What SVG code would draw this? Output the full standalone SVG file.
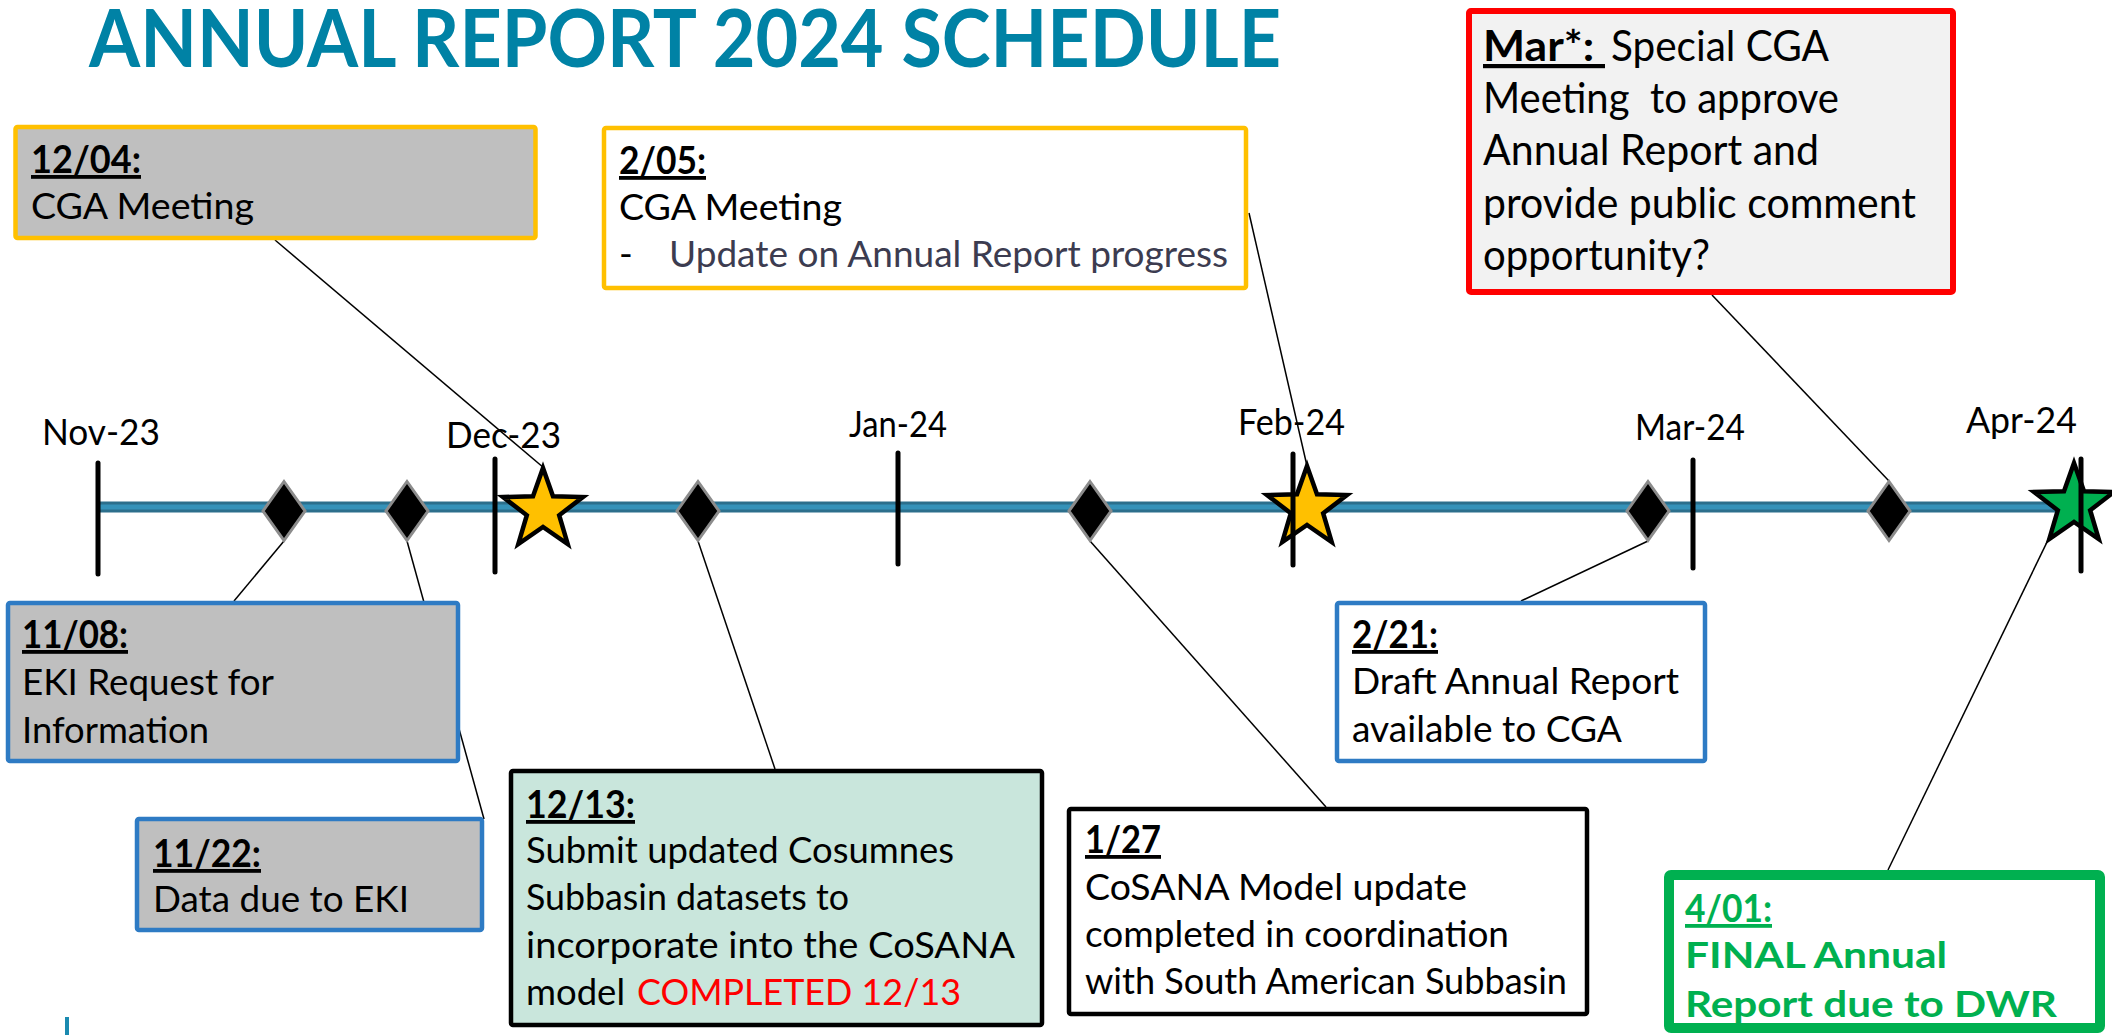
<svg xmlns="http://www.w3.org/2000/svg" width="2112" height="1035" viewBox="0 0 2112 1035">
  <style>
    text { font-family: Lato, "Liberation Sans", sans-serif; fill: #000; }
    .title { font-size: 80px; font-weight: bold; fill: #0082A5; }
    .mon { font-size: 37px; }
    .bd { font-size: 37px; }
    .big { font-size: 42px; }
    .hd { font-size: 38px; font-weight: bold; text-decoration: underline; }
    .red { fill: #FF0000; }
    .upd { fill: #3C3C50; }
    .grn { fill: #00B050; font-weight: bold; }
    .conn line { stroke: #000; stroke-width: 1.5; }
    .tick { stroke: #000; stroke-width: 5; stroke-linecap: round; }
    .dia { fill: #000; stroke: #8C8C8C; stroke-width: 3; }
    .star { stroke: #000; stroke-width: 4.5; stroke-linejoin: miter; }
    .gold { stroke: #FFC000; stroke-width: 4.5; }
    .blue { stroke: #2E7BC4; stroke-width: 4.5; }
    .blk { stroke: #000; stroke-width: 4.5; }
  </style>
  <defs>
    <path id="star5" d="M0,-42 L9.99,-13.75 L39.94,-12.98 L16.17,5.25 L24.69,33.98 L0,17 L-24.69,33.98 L-16.17,5.25 L-39.94,-12.98 L-9.99,-13.75 Z"/>
    <path id="diamond" d="M0,-29.5 L21,0 L0,29.5 L-21,0 Z"/>
  </defs>

  <rect width="2112" height="1035" fill="#FFFFFF"/>

  <text class="title" x="89" y="67" textLength="1192" lengthAdjust="spacingAndGlyphs">ANNUAL REPORT 2024 SCHEDULE</text>

  <!-- leader lines from milestones to their notes -->
  <g id="connectors" class="conn">
    <line x1="275" y1="240" x2="544" y2="468"/>
    <line x1="1249" y1="213" x2="1307" y2="466"/>
    <line x1="1712" y1="295" x2="1889" y2="481"/>
    <line x1="284" y1="541" x2="234" y2="601"/>
    <line x1="407" y1="541" x2="484" y2="819"/>
    <line x1="698" y1="541" x2="775" y2="769"/>
    <line x1="1090" y1="541" x2="1326" y2="807"/>
    <line x1="1648" y1="541" x2="1521" y2="601"/>
    <line x1="2065" y1="505" x2="1888" y2="870"/>
  </g>

  <!-- timeline bar -->
  <g id="timeline">
    <line x1="100" y1="507" x2="2080" y2="507" stroke="#2C6F8C" stroke-width="11"/>
    <line x1="100" y1="507" x2="2080" y2="507" stroke="#3592B9" stroke-width="5"/>
  </g>

  <!-- month labels -->
  <g id="months" class="mon">
    <text x="42" y="445" textLength="118" lengthAdjust="spacingAndGlyphs">Nov-23</text>
    <text x="446" y="448" textLength="115" lengthAdjust="spacingAndGlyphs">Dec-23</text>
    <text x="849" y="437" textLength="98" lengthAdjust="spacingAndGlyphs">Jan-24</text>
    <text x="1238" y="435" textLength="107" lengthAdjust="spacingAndGlyphs">Feb-24</text>
    <text x="1635" y="440" textLength="110" lengthAdjust="spacingAndGlyphs">Mar-24</text>
    <text x="1966" y="433" textLength="111" lengthAdjust="spacingAndGlyphs">Apr-24</text>
  </g>

  <!-- milestone diamonds -->
  <g id="diamonds">
    <use href="#diamond" class="dia" x="284" y="511"/>
    <use href="#diamond" class="dia" x="407" y="511"/>
    <use href="#diamond" class="dia" x="698" y="511"/>
    <use href="#diamond" class="dia" x="1090" y="511"/>
    <use href="#diamond" class="dia" x="1648" y="511"/>
    <use href="#diamond" class="dia" x="1889" y="511"/>
  </g>

  <!-- meeting / deadline stars -->
  <g id="stars">
    <use href="#star5" class="star" fill="#FFC000" x="543" y="510"/>
    <use href="#star5" class="star" fill="#FFC000" x="1307" y="508"/>
    <use href="#star5" class="star" fill="#00B050" x="2074" y="505"/>
  </g>

  <!-- month ticks -->
  <g id="ticks" class="tick">
    <line x1="98" y1="463" x2="98" y2="574"/>
    <line x1="495" y1="459" x2="495" y2="572"/>
    <line x1="898" y1="453" x2="898" y2="564"/>
    <line x1="1293" y1="454" x2="1293" y2="565"/>
    <line x1="1693" y1="460" x2="1693" y2="568"/>
    <line x1="2081" y1="459" x2="2081" y2="571"/>
  </g>

  <g id="n1204">
    <rect x="15.5" y="127" width="520" height="111" rx="2" fill="#BFBFBF" class="gold"/>
    <text class="hd" x="31" y="173" textLength="110" lengthAdjust="spacingAndGlyphs">12/04:</text>
    <text class="bd" x="31" y="219" textLength="223" lengthAdjust="spacingAndGlyphs">CGA Meeting</text>
  </g>

  <g id="n0205">
    <rect x="604" y="128" width="642" height="160" rx="2" fill="#FFFFFF" class="gold"/>
    <text class="hd" x="619" y="174" textLength="87" lengthAdjust="spacingAndGlyphs">2/05:</text>
    <text class="bd" x="619" y="220" textLength="223" lengthAdjust="spacingAndGlyphs">CGA Meeting</text>
    <text class="bd" x="619" y="267">-</text>
    <text class="bd upd" x="669" y="267" textLength="559" lengthAdjust="spacingAndGlyphs">Update on Annual Report progress</text>
  </g>

  <g id="nMar">
    <rect x="1469" y="11" width="484" height="281" rx="2" fill="#F2F2F2" stroke="#FF0000" stroke-width="6"/>
    <text class="big" x="1483" y="61" font-weight="bold" text-decoration="underline" xml:space="preserve" textLength="122" lengthAdjust="spacingAndGlyphs">Mar*: </text>
    <text class="big" x="1611" y="61" textLength="218" lengthAdjust="spacingAndGlyphs">Special CGA</text>
    <text class="big" x="1483" y="113" xml:space="preserve" textLength="356" lengthAdjust="spacingAndGlyphs">Meeting  to approve</text>
    <text class="big" x="1483" y="165" textLength="336" lengthAdjust="spacingAndGlyphs">Annual Report and</text>
    <text class="big" x="1483" y="218" textLength="433" lengthAdjust="spacingAndGlyphs">provide public comment</text>
    <text class="big" x="1483" y="270" textLength="227" lengthAdjust="spacingAndGlyphs">opportunity?</text>
  </g>

  <g id="n1108">
    <rect x="8" y="603" width="450" height="158" rx="2" fill="#BFBFBF" class="blue"/>
    <text class="hd" x="22" y="648" textLength="106" lengthAdjust="spacingAndGlyphs">11/08:</text>
    <text class="bd" x="22" y="695" textLength="252" lengthAdjust="spacingAndGlyphs">EKI Request for</text>
    <text class="bd" x="22" y="743" textLength="187" lengthAdjust="spacingAndGlyphs">Information</text>
  </g>

  <g id="n1122">
    <rect x="137" y="819" width="345" height="111" rx="2" fill="#BFBFBF" class="blue"/>
    <text class="hd" x="153" y="867" textLength="108" lengthAdjust="spacingAndGlyphs">11/22:</text>
    <text class="bd" x="153" y="912" textLength="256" lengthAdjust="spacingAndGlyphs">Data due to EKI</text>
  </g>

  <g id="n1213">
    <rect x="511" y="771" width="531" height="254" rx="2" fill="#C9E6DC" class="blk"/>
    <text class="hd" x="526" y="818" textLength="109" lengthAdjust="spacingAndGlyphs">12/13:</text>
    <text class="bd" x="526" y="863" textLength="428" lengthAdjust="spacingAndGlyphs">Submit updated Cosumnes</text>
    <text class="bd" x="526" y="910" textLength="323" lengthAdjust="spacingAndGlyphs">Subbasin datasets to</text>
    <text class="bd" x="526" y="958" textLength="489" lengthAdjust="spacingAndGlyphs">incorporate into the CoSANA</text>
    <text class="bd" x="526" y="1005" textLength="99" lengthAdjust="spacingAndGlyphs">model</text>
    <text class="bd red" x="637" y="1005" textLength="324" lengthAdjust="spacingAndGlyphs">COMPLETED 12/13</text>
  </g>

  <g id="n0127">
    <rect x="1069" y="809" width="518" height="205" rx="2" fill="#FFFFFF" class="blk"/>
    <text class="hd" x="1085" y="853" textLength="76" lengthAdjust="spacingAndGlyphs">1/27</text>
    <text class="bd" x="1085" y="900" textLength="382" lengthAdjust="spacingAndGlyphs">CoSANA Model update</text>
    <text class="bd" x="1085" y="947" textLength="424" lengthAdjust="spacingAndGlyphs">completed in coordination</text>
    <text class="bd" x="1085" y="994" textLength="482" lengthAdjust="spacingAndGlyphs">with South American Subbasin</text>
  </g>

  <g id="n0221">
    <rect x="1337" y="603" width="368" height="158" rx="2" fill="#FFFFFF" class="blue"/>
    <text class="hd" x="1352" y="648" textLength="86" lengthAdjust="spacingAndGlyphs">2/21:</text>
    <text class="bd" x="1352" y="694" textLength="327" lengthAdjust="spacingAndGlyphs">Draft Annual Report</text>
    <text class="bd" x="1352" y="742" textLength="270" lengthAdjust="spacingAndGlyphs">available to CGA</text>
  </g>

  <g id="n0401">
    <rect x="1669" y="875" width="431" height="153" rx="2" fill="#FFFFFF" stroke="#00B050" stroke-width="10"/>
    <text class="hd grn" x="1685" y="922" textLength="87" lengthAdjust="spacingAndGlyphs">4/01:</text>
    <text class="bd grn" x="1685" y="968" textLength="262" lengthAdjust="spacingAndGlyphs">FINAL Annual</text>
    <text class="bd grn" x="1685" y="1017" textLength="372" lengthAdjust="spacingAndGlyphs">Report due to DWR</text>
  </g>

  <line x1="67" y1="1017" x2="67" y2="1035" stroke="#1A8AB0" stroke-width="4"/>
</svg>
